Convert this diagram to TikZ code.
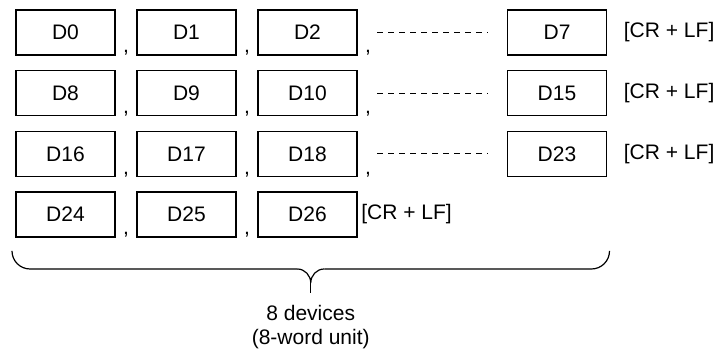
\documentclass[tikz,border=0pt]{standalone}
\usepackage{fontspec}
\setmainfont{Liberation Sans}
\usetikzlibrary{positioning,calc}

\tikzset{
  dev/.style={draw, line width=0.6pt, minimum width=49.5pt, minimum height=22.5pt, inner sep=0pt, outer sep=0pt},
  sep/.style={anchor=base, inner sep=0pt},
  crlf/.style={inner sep=0pt},
  more/.style={dash pattern=on 3pt off 2.5pt, line width=0.5pt},
  brace/.style={line width=0.6pt},
}

\begin{document}
\begin{tikzpicture}[node distance=7.83pt and 11pt, font=\fontsize{10.5}{12}\selectfont]
  \useasboundingbox (-32.75pt,16.25pt) rectangle (325.25pt,-159.75pt);
  % Row 1
  \node[dev] (d0) {D0}; %
  \node[dev, right=of d0] (d1) {D1}; %
  \node[dev, right=of d1] (d2) {D2}; %
  \node[dev, right=75.25pt of d2] (d7) {D7}; %
  \node[crlf, right=8.5pt of d7] (e0) {[CR + LF]}; %
  % Row 2
  \node[dev, below=of d0] (d8) {D8}; %
  \node[dev, right=of d8] (d9) {D9}; %
  \node[dev, right=of d9] (d10) {D10}; %
  \node[dev, below=of d7] (d15) {D15}; %
  \node[crlf, right=8.5pt of d15] (e1) {[CR + LF]}; %
  % Row 3
  \node[dev, below=of d8] (d16) {D16}; %
  \node[dev, right=of d16] (d17) {D17}; %
  \node[dev, right=of d17] (d18) {D18}; %
  \node[dev, below=of d15] (d23) {D23}; %
  \node[crlf, right=8.5pt of d23] (e2) {[CR + LF]}; %
  % Row 4
  \node[dev, below=of d16] (d24) {D24}; %
  \node[dev, right=of d24] (d25) {D25}; %
  \node[dev, right=of d25] (d26) {D26}; %
  \node[crlf, right=2pt of d26] (e3) {[CR + LF]}; %
  % Separators
  \node[sep] at ($(d0.south east)!.5!(d1.south west)+(0,1pt)$) {,}; %
  \node[sep] at ($(d1.south east)!.5!(d2.south west)+(0,1pt)$) {,}; %
  \node[sep] at ($(d2.south east)+(5.5pt,1pt)$) {,}; %
  \node[sep] at ($(d8.south east)!.5!(d9.south west)+(0,1pt)$) {,}; %
  \node[sep] at ($(d9.south east)!.5!(d10.south west)+(0,1pt)$) {,}; %
  \node[sep] at ($(d10.south east)+(5.5pt,1pt)$) {,}; %
  \node[sep] at ($(d16.south east)!.5!(d17.south west)+(0,1pt)$) {,}; %
  \node[sep] at ($(d17.south east)!.5!(d18.south west)+(0,1pt)$) {,}; %
  \node[sep] at ($(d18.south east)+(5.5pt,1pt)$) {,}; %
  \node[sep] at ($(d24.south east)!.5!(d25.south west)+(0,1pt)$) {,}; %
  \node[sep] at ($(d25.south east)!.5!(d26.south west)+(0,1pt)$) {,}; %
  % Omitted devices
  \draw[more] ([xshift=10pt]d2.east) -- ([xshift=-10pt]d7.west); %
  \draw[more] ([xshift=10pt]d10.east) -- ([xshift=-10pt]d15.west); %
  \draw[more] ([xshift=10pt]d18.east) -- ([xshift=-10pt]d23.west); %
  % Brace
  \coordinate (bl) at ($(d24.south west)+(-2pt,-7pt)$); %
  \coordinate (br) at ($(d23.east |- bl)+(1.5pt,0)$); %
  \coordinate (bc) at ($(bl)!.5!(br)$); %
  \coordinate (ml) at ($(bc)+(-6.75pt,-9pt)$); %
  \coordinate (mr) at ($(bc)+(6.75pt,-9pt)$); %
  \coordinate (tipu) at ($(bc)+(0,-16pt)$); %
  \coordinate (tip) at ($(bc)+(0,-21pt)$); %
  \draw[brace, rounded corners=9pt] (bl) |- (ml); %
  \draw[brace, rounded corners=9pt] (br) |- (mr); %
  \draw[brace] (ml) to[out=0,in=90] (tipu) to[out=90,in=180] (mr); %
  \draw[brace] (tipu) -- (tip); %
  \node[align=center, inner sep=0pt, below=6pt of tip] (units) {8 devices\\(8-word unit)}; %
\end{tikzpicture}
\end{document}
